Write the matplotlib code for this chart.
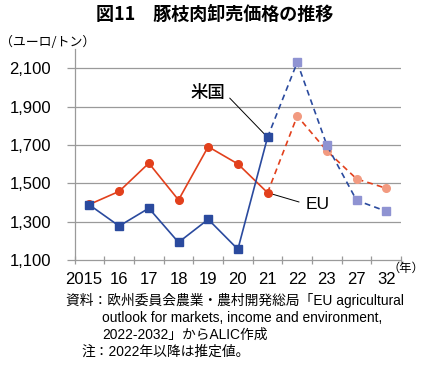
import matplotlib
matplotlib.use("Agg")
import matplotlib.pyplot as plt
import matplotlib.transforms as mtransforms
from matplotlib.ticker import FixedLocator, FuncFormatter

plt.rcParams['font.family'] = ['Liberation Sans', 'Noto Sans CJK JP', 'DejaVu Sans']

years = ["2015", "16", "17", "18", "19", "20", "21", "22", "23", "27", "32"]
eu = [1390, 1458, 1605, 1413, 1691, 1601, 1451, 1851, 1669, 1523, 1474]
us = [1387, 1277, 1370, 1192, 1312, 1156, 1740, 2131, 1698, 1411, 1354]
yticks = [1100, 1300, 1500, 1700, 1900, 2100]
n_actual = 7  # 2015-2021 actual, 2022 onwards estimates

EU_C = "#e2401c"
EU_L = "#f29a80"
US_C = "#2a4a9e"
US_L = "#8f93d2"
GRID = "#9a9a9a"

fig = plt.figure(figsize=(4.29, 3.67), dpi=100)
ax = fig.add_axes([0.174, 0.2916, 0.761, 0.5746])

x = list(range(len(years)))
k = n_actual - 1

# EU
ax.plot(x[:n_actual], eu[:n_actual], color=EU_C, lw=1.2, zorder=3)
ax.plot(x[k:], eu[k:], color=EU_C, lw=1.2, ls=(0, (3.5, 2.5)), zorder=3)
ax.plot(x[:n_actual], eu[:n_actual], 'o', color=EU_C, ms=5.5, mec=EU_C, zorder=4)
ax.plot(x[n_actual:], eu[n_actual:], 'o', color=EU_L, ms=5.5, mec=EU_L, zorder=4)

# US
ax.plot(x[:n_actual], us[:n_actual], color=US_C, lw=1.2, zorder=5)
ax.plot(x[k:], us[k:], color=US_C, lw=1.2, ls=(0, (3.5, 2.5)), zorder=5)
ax.plot(x[:n_actual], us[:n_actual], 's', color=US_C, ms=5.5, mec=US_C, zorder=6)
ax.plot(x[n_actual:], us[n_actual:], 's', color=US_L, ms=5.5, mec=US_L, zorder=6)

ax.set_xlim(-0.5, len(years) - 0.5)
ax.set_ylim(1100, 2200)

ax.yaxis.set_major_locator(FixedLocator(yticks))
ax.yaxis.set_major_formatter(FuncFormatter(lambda v, p: f"{int(v):,}"))
for yv in yticks[1:]:
    ax.axhline(yv, color=GRID, lw=0.9, zorder=1)

ax.set_xticks(x)
ax.set_xticklabels(years)
ax.set_xticks([i - 0.5 for i in range(len(years) + 1)], minor=True)
ax.tick_params(axis='x', which='major', length=0, labelsize=12, pad=9)
ax.tick_params(axis='x', which='minor', length=6, direction='inout', color=GRID, width=0.9)
ax.tick_params(axis='y', which='major', length=6, direction='out', color=GRID, width=0.9,
               labelsize=12, pad=11)

# first x label sits a little to the left
lbl0 = ax.get_xticklabels()[0]
lbl0.set_transform(lbl0.get_transform() +
                   mtransforms.ScaledTranslation(-6 / 100, 0, fig.dpi_scale_trans))

for s in ['top', 'right']:
    ax.spines[s].set_visible(False)
for s in ['left', 'bottom']:
    ax.spines[s].set_color(GRID)
    ax.spines[s].set_linewidth(0.9)

# annotations
ax.annotate("米国", xy=(6, us[6]), xytext=(3.98, 1970), fontsize=12.5,
            family=['Noto Sans CJK JP'], fontweight='medium', ha='center', va='center',
            arrowprops=dict(arrowstyle='-', color='black', lw=0.7,
                            shrinkA=2, shrinkB=3, relpos=(1.0, 0.5)))
ax.annotate("EU", xy=(6, eu[6]), xytext=(7.29, 1392), fontsize=12.5,
            ha='left', va='center',
            arrowprops=dict(arrowstyle='-', color='black', lw=0.7,
                            shrinkA=3, shrinkB=3, relpos=(0.0, 0.5)))

# title and texts
fig.text(0.5, 0.962, "図11　豚枝肉卸売価格の推移", ha='center', va='center',
         fontsize=13, fontweight='bold', family=['Noto Sans CJK JP'])
fig.text(0.0, 0.885, "（ユーロ/トン）", ha='left', va='center', fontsize=9.3,
         family=['Noto Sans CJK JP'])
fig.text(388 / 429, 0.268, "（年）", ha='left', va='center', fontsize=8.8,
         family=['Noto Sans CJK JP'])

notes = ['Liberation Sans', 'Noto Sans CJK JP']
fig.text(66 / 429, 0.1826, "資料：欧州委員会農業・農村開発総局「EU agricultural", ha='left',
         va='center', fontsize=9.9, family=notes)
fig.text(102 / 429, 0.1335, "outlook for markets, income and environment,", ha='left',
         va='center', fontsize=9.9, family=notes)
fig.text(102 / 429, 0.0872, "2022-2032」からALIC作成", ha='left', va='center',
         fontsize=9.9, family=notes)
fig.text(81 / 429, 0.0409, "注：2022年以降は推定値。", ha='left', va='center',
         fontsize=9.9, family=notes)

fig.savefig("out.png", dpi=100)
